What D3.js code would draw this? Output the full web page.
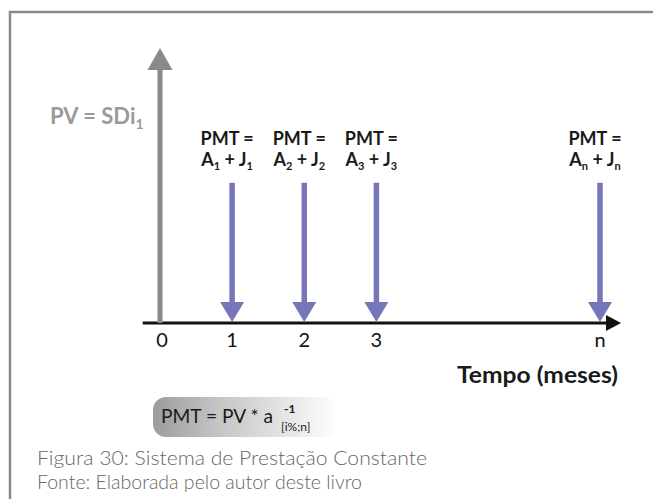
<!DOCTYPE html>
<html>
<head>
<meta charset="utf-8">
<script src="https://cdn.jsdelivr.net/npm/d3@7"></script>
<style>
  body { margin: 0; background: #fff; }
  text { font-family: Lato, "Open Sans", sans-serif; }
</style>
</head>
<body>
<script>
var width = 653;
var height = 499;

// periods on the time line (n sits further out, after a gap)
var periods = [0, 1, 2, 3, 6.1];
var periodLabels = ["0", "1", "2", "3", "n"];
// payments happen at periods 1, 2, 3 and n
var pmtPeriods = [1, 2, 3, 6.1];
var pmtIndex = ["1", "2", "3", "n"];
var pmtSize = [0.51, 0.51, 0.51, 0.51];
var pvSize = 1;

var svg = d3.select("body")
            .append("svg")
            .attr("width", width)
            .attr("height", height);

// frame
svg.append("path")
   .attr("d", "M10,510 L10,12 L660,12")
   .attr("fill", "none")
   .attr("stroke", "#8a8a8a")
   .attr("stroke-width", 2.5);

var x = d3.scaleLinear().domain([0, 6.1]).range([160, 600]);
var y = d3.scaleLinear().domain([0, 1]).range([323, 48]);

// horizontal time axis with arrow head
svg.append("line")
   .attr("x1", x(-0.24)).attr("x2", x(6.2))
   .attr("y1", y(0)).attr("y2", y(0))
   .attr("stroke", "#111")
   .attr("stroke-width", 3);
svg.append("path")
   .attr("d", `M${x(6.1) + 6},${y(0) - 8} L${x(6.1) + 21},${y(0)} L${x(6.1) + 6},${y(0) + 8} Z`)
   .attr("fill", "#111");

// PV arrow (up)
svg.append("line")
   .attr("x1", x(0)).attr("x2", x(0))
   .attr("y1", y(0)).attr("y2", y(pvSize) + 20)
   .attr("stroke", "#8a8a8a")
   .attr("stroke-width", 5);
svg.append("path")
   .attr("d", `M${x(0) - 12.5},${y(pvSize) + 22} L${x(0)},${y(pvSize)} L${x(0) + 12.5},${y(pvSize) + 22} Z`)
   .attr("fill", "#8a8a8a");

// PMT arrows (down)
var pmt = svg.selectAll("g.pmt")
             .data(pmtPeriods)
             .enter()
             .append("g")
             .attr("class", "pmt");

pmt.append("line")
   .attr("x1", function(d) { return x(d); })
   .attr("x2", function(d) { return x(d); })
   .attr("y1", function(d, i) { return y(pmtSize[i]); })
   .attr("y2", y(0) - 20)
   .attr("stroke", "#7676b9")
   .attr("stroke-width", 5.5);

pmt.append("path")
   .attr("d", function(d) {
     return `M${x(d) - 12},${y(0) - 21} L${x(d)},${y(0) - 1} L${x(d) + 12},${y(0) - 21} Z`;
   })
   .attr("fill", "#7676b9");

// PMT labels
pmt.append("text")
   .attr("x", function(d) { return x(d) - 5; })
   .attr("y", 145)
   .attr("text-anchor", "middle")
   .attr("font-weight", "bold")
   .attr("font-size", 18)
   .attr("fill", "#1a1a1a")
   .text("PMT =");

var second = pmt.append("text")
   .attr("x", function(d) { return x(d) - 5; })
   .attr("y", 166)
   .attr("text-anchor", "middle")
   .attr("font-weight", "bold")
   .attr("font-size", 18)
   .attr("fill", "#1a1a1a");
second.append("tspan").text("A");
second.append("tspan").attr("font-size", 11).attr("dy", 4).text(function(d, i) { return pmtIndex[i]; });
second.append("tspan").attr("dy", -4).text(" + J");
second.append("tspan").attr("font-size", 11).attr("dy", 4).text(function(d, i) { return pmtIndex[i]; });

// tick labels
svg.selectAll("text.tick")
   .data(periods)
   .enter()
   .append("text")
   .attr("class", "tick")
   .attr("x", function(d) { return x(d) + (d === 0 ? 2 : 0); })
   .attr("y", 347)
   .attr("text-anchor", "middle")
   .attr("font-size", 20)
   .attr("fill", "#111")
   .text(function(d, i) { return periodLabels[i]; });

svg.append("text")
   .attr("x", 457)
   .attr("y", 383)
   .attr("font-weight", "bold")
   .attr("font-size", 22)
   .attr("fill", "#1a1a1a")
   .attr("textLength", 161)
   .attr("lengthAdjust", "spacingAndGlyphs")
   .text("Tempo (meses)");

// PV label
var pv = svg.append("text")
   .attr("x", 50)
   .attr("y", 124)
   .attr("font-weight", "bold")
   .attr("font-size", 22)
   .attr("fill", "#9a9a9a");
pv.append("tspan").text("PV = SDi");
pv.append("tspan").attr("font-size", 14).attr("dy", 5).text("1");

// formula box
var defs = svg.append("defs");
var grad = defs.append("linearGradient").attr("id", "boxGrad");
grad.append("stop").attr("offset", "0%").attr("stop-color", "#9c9c9c");
grad.append("stop").attr("offset", "35%").attr("stop-color", "#c4c4c4");
grad.append("stop").attr("offset", "100%").attr("stop-color", "#ffffff");

svg.append("rect")
   .attr("x", 153).attr("y", 397)
   .attr("width", 185).attr("height", 40)
   .attr("rx", 13)
   .attr("fill", "url(#boxGrad)");

svg.append("text")
   .attr("x", 161).attr("y", 423)
   .attr("font-size", 19)
   .attr("fill", "#1a1a1a")
   .attr("textLength", 112)
   .attr("lengthAdjust", "spacingAndGlyphs")
   .text("PMT = PV * a");
svg.append("text")
   .attr("x", 284).attr("y", 413)
   .attr("font-size", 12)
   .attr("font-weight", "bold")
   .attr("fill", "#1a1a1a")
   .text("-1");
svg.append("text")
   .attr("x", 281).attr("y", 431)
   .attr("font-size", 12)
   .attr("fill", "#1a1a1a")
   .text("[i%;n]");

// caption
svg.append("text")
   .attr("x", 37).attr("y", 465)
   .attr("font-size", 20)
   .attr("font-weight", 300)
   .attr("fill", "#666")
   .attr("textLength", 390)
   .attr("lengthAdjust", "spacingAndGlyphs")
   .text("Figura 30: Sistema de Prestação Constante");
svg.append("text")
   .attr("x", 37).attr("y", 489)
   .attr("font-size", 20)
   .attr("font-weight", 300)
   .attr("fill", "#666")
   .attr("textLength", 325)
   .attr("lengthAdjust", "spacingAndGlyphs")
   .text("Fonte: Elaborada pelo autor deste livro");
</script>
</body>
</html>
